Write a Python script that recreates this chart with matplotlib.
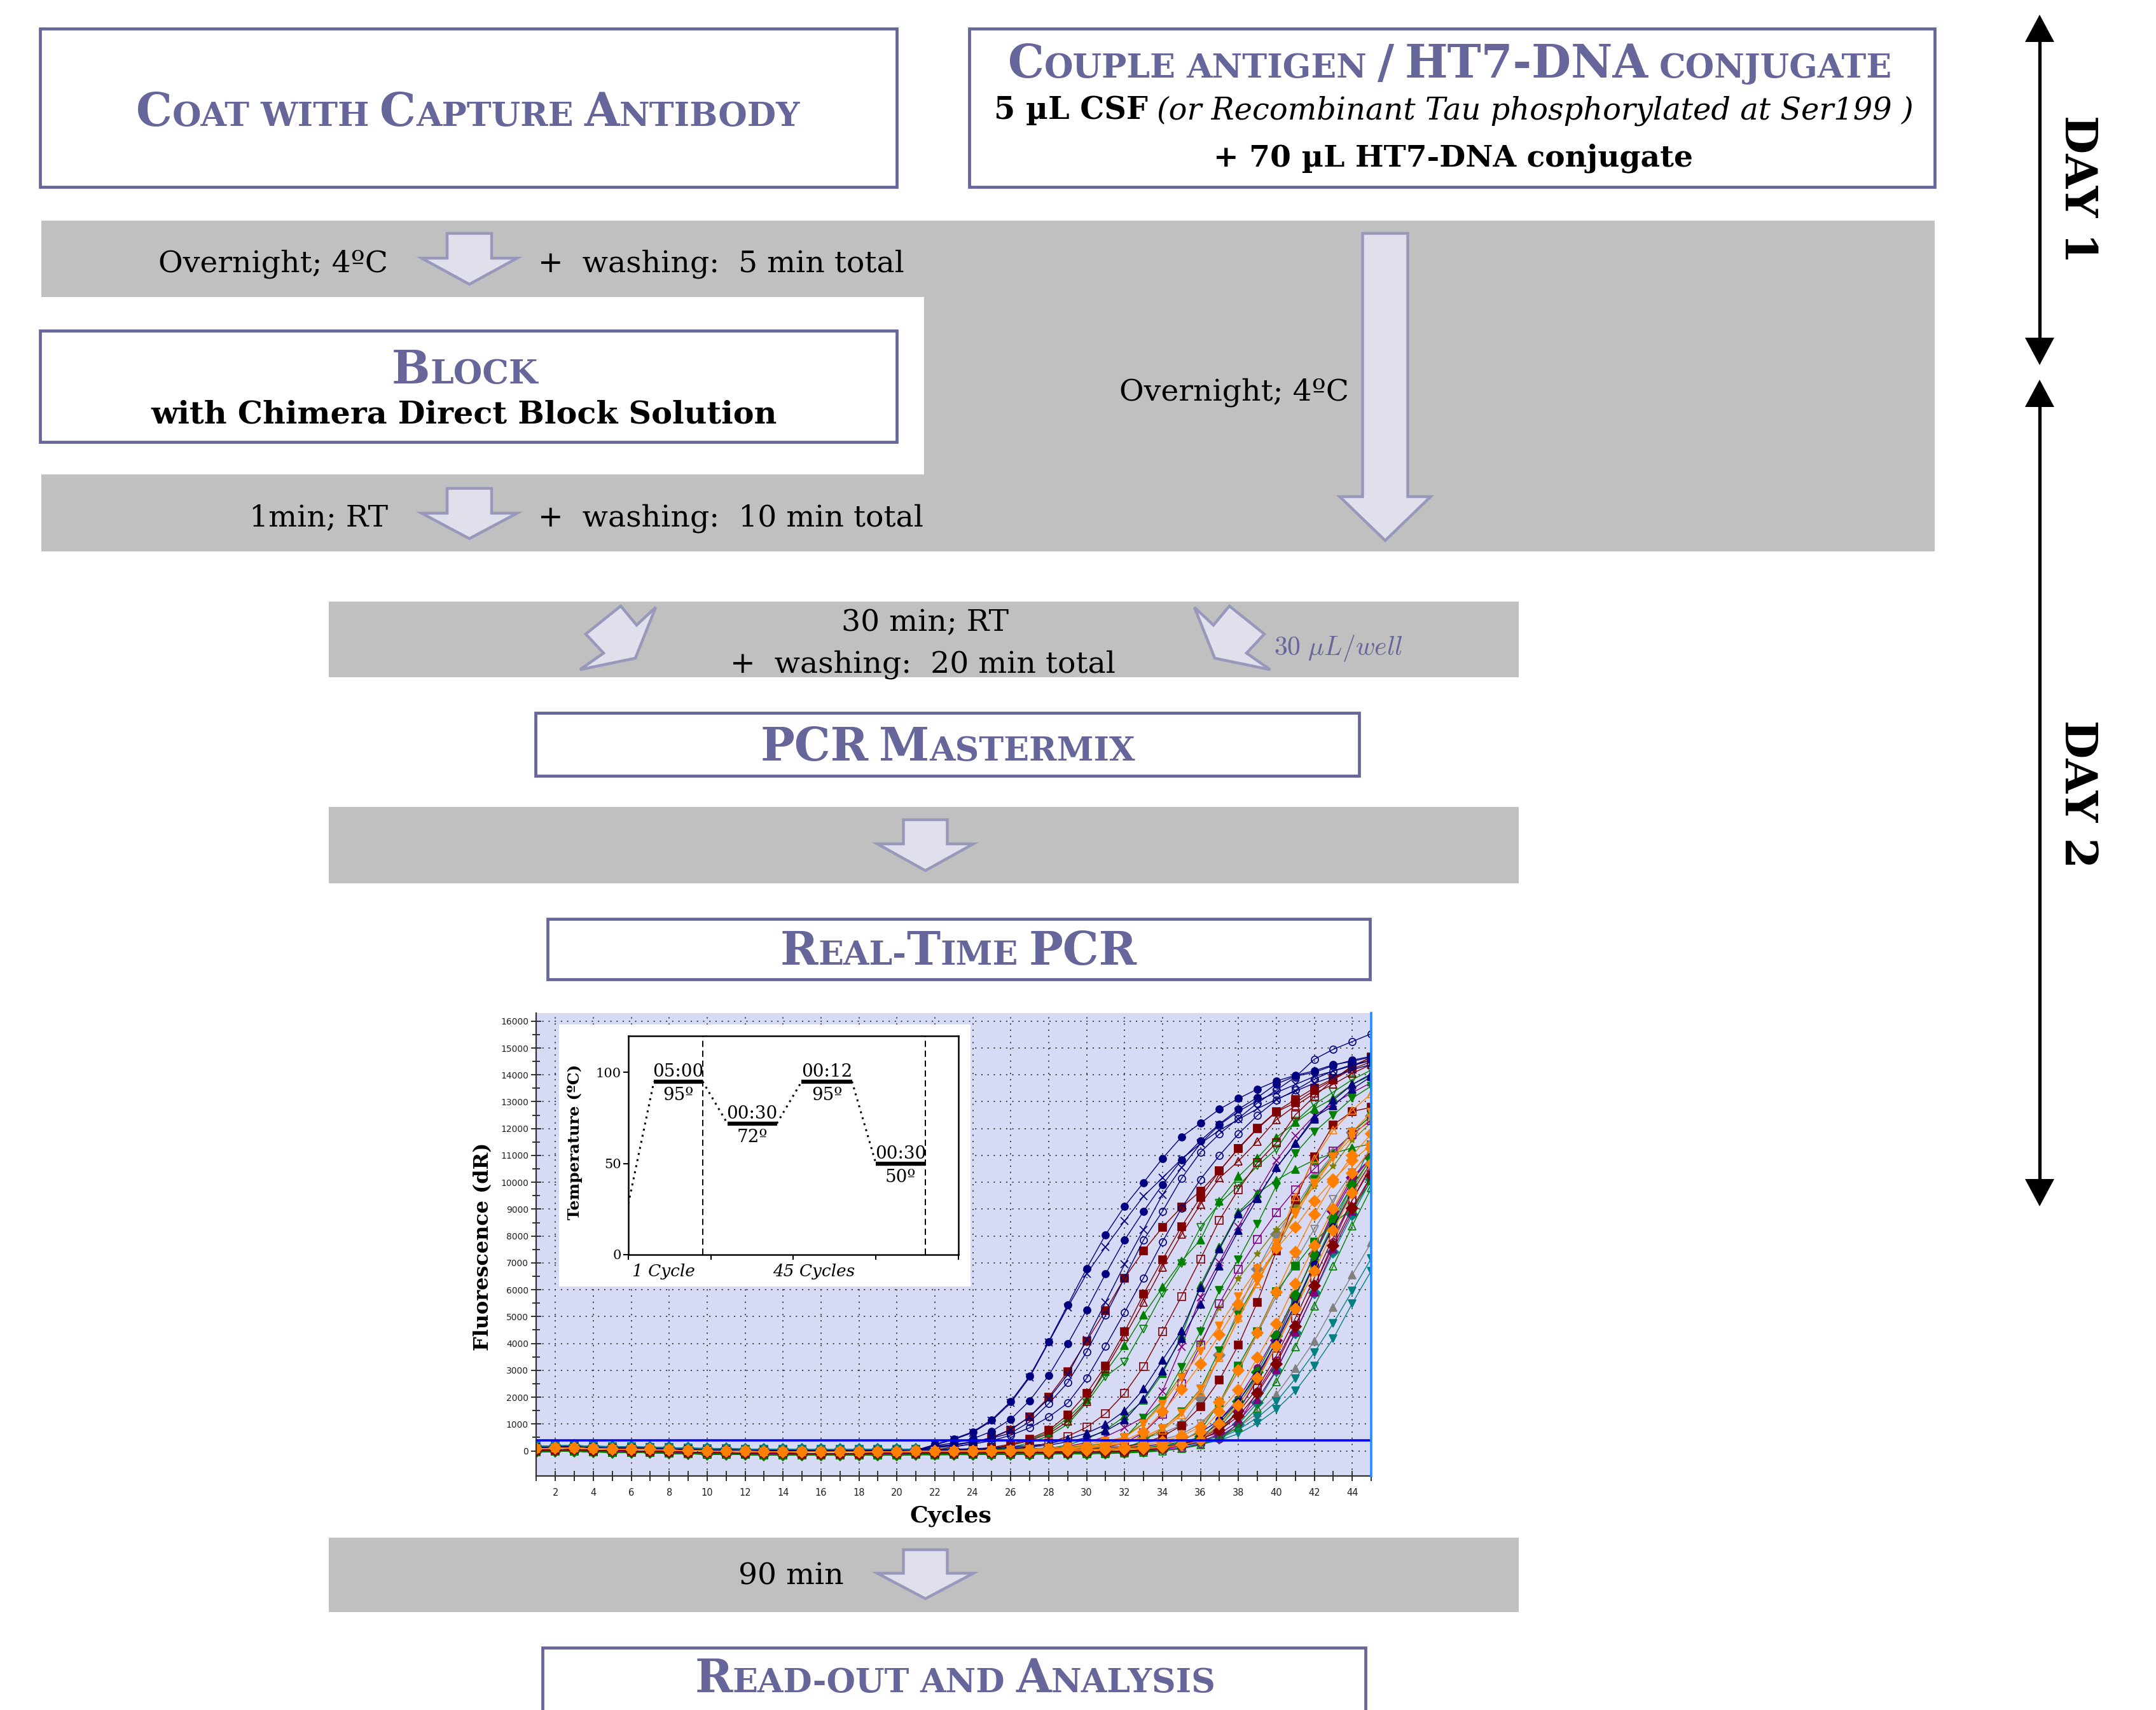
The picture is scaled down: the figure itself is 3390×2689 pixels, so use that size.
import numpy as np
import matplotlib
matplotlib.use("Agg")
import matplotlib.pyplot as plt
from matplotlib.patches import Rectangle, Polygon

W, H = 3391, 2689
DPI = 100
SLATE = "#66669a"
BAND = "#c0c0c0"
ARROW_FILL = "#e0e0ec"
ARROW_EDGE = "#9898bb"
SERIF = "DejaVu Serif"
plt.rcParams["mathtext.fontset"] = "cm"

# ---------------- amplification data (dR) ----------------
cycles = list(range(1, 46))
# common baseline for cycles 1-21
baseline_dR = [80, 100, 110, 80, 70, 60, 50, 30, 10, 0, -10, -20, -30, -30, -40,
               -40, -40, -40, -30, -30, -20]
# each curve below lists cycles 22-45
threshold_dR = 400

navy_dR = [
    [200, 410, 670, 1120, 1800, 2750, 4030, 5390, 6750, 8010, 9070, 9950, 10850, 11650, 12160, 12680, 13080, 13430, 13730, 13940, 14110, 14340, 14460, 14630],
    [180, 380, 640, 1080, 1750, 2700, 4000, 5300, 6550, 7560, 8520, 9440, 10130, 10820, 11400, 11900, 12300, 12700, 13050, 13350, 13650, 13900, 14150, 14350],
    [150, 260, 410, 690, 1140, 1830, 2770, 3940, 5210, 6550, 7810, 8880, 9870, 10790, 11510, 12130, 12680, 13120, 13620, 13910, 14050, 14310, 14510, 14650],
    [120, 200, 300, 430, 620, 1040, 1720, 2500, 3650, 5010, 6400, 7810, 8880, 10100, 11080, 11760, 12340, 12910, 13390, 13880, 14540, 14910, 15200, 15490],
    [80, 130, 210, 340, 540, 820, 1220, 1740, 2660, 3860, 5120, 6400, 7750, 8990, 10070, 10960, 11760, 12450, 13020, 13390, 13800, 14110, 14340, 14500],
    [100, 170, 280, 460, 760, 1230, 1900, 2800, 4100, 5500, 6900, 8200, 9500, 10500, 11400, 12100, 12600, 13000, 13300, 13600, 13900, 14100, 14300, 14500],
    [0, 20, 40, 70, 110, 160, 220, 400, 620, 940, 1450, 2260, 3340, 4430, 6040, 7470, 8790, 9380, 10500, 11420, 12390, 12800, 13430, 13900],
    [-10, 0, 20, 40, 70, 110, 170, 300, 450, 700, 1100, 1900, 2940, 4150, 5410, 6840, 8160, 9360, 10500, 11400, 12310, 13020, 13600, 14000],
    [-20, -20, -10, -10, 0, 0, 10, 20, 30, 50, 80, 130, 220, 380, 650, 1100, 1800, 2800, 4000, 5400, 6900, 8300, 9600, 10700],
]
navy_marks = [("o", True), ("x", True), ("o", True), ("o", False), ("o", False),
              ("x", True), ("^", True), ("^", True), ("o", True)]

maroon_dR = [
    [100, 200, 330, 540, 840, 1330, 2060, 3010, 4150, 5290, 6500, 7500, 8390, 9130, 9730, 10480, 11330, 12080, 12700, 13140, 13570, 13920, 14340, 14740],
    [30, 60, 110, 190, 310, 510, 820, 1400, 2200, 3230, 4490, 5900, 7180, 8410, 9500, 10480, 11310, 12050, 12680, 13020, 13480, 13880, 14400, 14700],
    [20, 50, 90, 160, 270, 440, 700, 1150, 1900, 3120, 4320, 5580, 6900, 8120, 9240, 10220, 10850, 11590, 12390, 12910, 13370, 13710, 14110, 14450],
    [0, 20, 40, 70, 120, 200, 350, 600, 940, 1450, 2200, 3200, 4490, 5810, 7200, 8650, 9790, 10790, 11530, 12570, 13250, 13880, 14280, 14550],
    [-20, -10, -10, 0, 0, 10, 20, 40, 70, 120, 200, 350, 600, 1000, 1700, 2700, 4000, 5600, 7500, 9400, 11000, 12200, 12700, 12850],
    [-30, -20, -20, -10, -10, 0, 0, 10, 20, 40, 60, 100, 170, 300, 520, 900, 1500, 2400, 3600, 5000, 6500, 8000, 9400, 10600],
    [-20, -20, -10, -10, 0, 0, 10, 10, 20, 30, 50, 90, 160, 280, 480, 820, 1350, 2200, 3300, 4700, 6200, 7700, 9100, 10300],
]
maroon_marks = [("s", True), ("s", True), ("^", False), ("s", False), ("s", True),
                ("s", False), ("D", True)]

green_dR = [
    [40, 70, 120, 200, 330, 530, 820, 1340, 2030, 3060, 4030, 5180, 6210, 7180, 7980, 9420, 10330, 11020, 11790, 12340, 12850, 13250, 13770, 14100],
    [30, 50, 90, 150, 250, 420, 680, 1110, 1910, 2890, 3420, 4660, 5980, 7090, 8440, 9340, 9990, 10730, 11360, 12390, 13020, 13480, 13940, 14300],
    [0, 10, 30, 50, 80, 130, 210, 340, 560, 900, 1400, 2000, 3000, 4400, 6300, 7700, 9000, 9700, 10200, 10600, 10950, 11200, 11400, 11550],
    [-10, 0, 10, 20, 30, 50, 80, 130, 200, 350, 600, 1340, 1970, 3230, 4550, 6090, 7240, 8560, 9990, 11190, 11990, 12620, 13250, 13700],
    [-20, -10, -10, 0, 0, 10, 20, 40, 70, 120, 220, 500, 940, 1570, 2430, 3860, 5180, 6440, 7640, 9010, 10220, 11080, 11990, 12600],
    [-30, -20, -20, -10, -10, 0, 0, 10, 20, 40, 70, 130, 260, 480, 880, 1910, 3290, 4550, 6040, 7000, 7900, 8600, 9130, 10160],
    [-20, -20, -10, -10, 0, 0, 10, 10, 20, 40, 60, 110, 200, 360, 650, 1150, 1950, 3050, 4400, 5900, 7400, 8800, 10000, 11000],
    [-20, -20, -20, -10, -10, 0, 0, 10, 10, 20, 40, 70, 120, 200, 340, 600, 1000, 1700, 2700, 4000, 5500, 7000, 8500, 9900],
]
green_marks = [("^", True), ("v", False), ("^", True), ("v", True), ("v", True),
               ("s", True), ("D", True), ("^", False)]

purple_dR = [
    [-10, 0, 0, 10, 20, 30, 50, 80, 130, 220, 380, 770, 1450, 2600, 4030, 5580, 6840, 7960, 8960, 9820, 10600, 11250, 11880, 12400],
    [-20, -20, -10, -10, 0, 0, 10, 20, 30, 50, 80, 130, 220, 370, 560, 770, 1570, 2770, 4200, 5810, 7410, 9010, 10270, 11020],
    [-30, -20, -20, -10, -10, 0, 0, 10, 10, 20, 40, 70, 120, 200, 330, 540, 1110, 2310, 3460, 4780, 6210, 7870, 9420, 10730],
    [-20, -20, -10, -10, 0, 0, 10, 10, 20, 40, 70, 120, 200, 340, 540, 1230, 2030, 3170, 4430, 5860, 7350, 8900, 10160, 11020],
    [0, 10, 20, 40, 70, 110, 170, 260, 400, 620, 950, 1340, 2310, 3970, 5810, 7120, 8440, 9700, 10900, 11820, 12570, 13020, 13430, 13800],
    [-20, -20, -10, -10, 0, 0, 0, 10, 20, 30, 50, 90, 150, 260, 430, 720, 1200, 2000, 3100, 4500, 6000, 7600, 9000, 10300],
]
purple_marks = [("s", False), ("D", True), ("o", False), ("o", True), ("x", True), ("^", True)]

teal_dR = [
    [-40, -40, -30, -30, -20, -20, -10, -10, 0, 10, 20, 40, 70, 110, 150, 300, 550, 940, 1450, 2140, 3060, 4090, 5400, 6610],
    [-40, -30, -30, -20, -20, -10, -10, 0, 10, 20, 30, 50, 90, 140, 200, 380, 700, 1150, 1740, 2600, 3570, 4660, 5860, 7070],
    [-30, -20, -20, -10, -10, 0, 0, 10, 20, 30, 50, 80, 140, 240, 420, 800, 1600, 2700, 4000, 5400, 6900, 8400, 9800, 11300],
    [-30, -30, -20, -20, -10, -10, 0, 0, 10, 20, 30, 50, 90, 150, 260, 450, 900, 1700, 2900, 4300, 5800, 7300, 8700, 10000],
]
teal_marks = [("v", True), ("v", True), ("s", True), ("D", True)]

gray_dR = [
    [-30, -30, -20, -20, -10, -10, 0, 0, 10, 20, 40, 70, 120, 190, 300, 500, 820, 1340, 2030, 3000, 4030, 5290, 6490, 7700],
    [-10, 0, 0, 10, 20, 30, 50, 80, 130, 200, 300, 420, 600, 900, 1900, 3500, 5200, 6700, 8000, 9000, 10100, 11000, 11800, 12400],
    [-20, -10, -10, 0, 0, 10, 20, 30, 50, 80, 130, 220, 360, 560, 950, 1700, 2900, 4300, 5700, 7000, 8200, 9300, 10300, 11100],
]
gray_marks = [("^", True), ("D", True), ("v", False)]

olive_dR = [
    [-10, 0, 0, 10, 20, 40, 60, 100, 160, 260, 500, 1000, 1800, 2800, 4000, 5290, 6380, 7300, 8210, 9010, 9820, 10560, 11530, 12200],
    [-30, -20, -20, -10, -10, 0, 0, 10, 20, 30, 50, 80, 130, 230, 400, 700, 1500, 2600, 3900, 5300, 6900, 8400, 9700, 10900],
]
olive_marks = [("*", True), ("s", True)]

orange_dR = [
    [-10, 0, 10, 20, 40, 60, 100, 160, 250, 370, 500, 1000, 1740, 2700, 3700, 4660, 5750, 6780, 7750, 8900, 9990, 10960, 11880, 12600],
    [-10, 0, 0, 10, 20, 40, 60, 100, 160, 250, 400, 700, 1450, 2280, 3230, 4320, 5460, 6490, 7530, 8330, 9300, 10100, 10800, 11400],
    [-20, -10, -10, 0, 10, 20, 30, 60, 100, 170, 290, 480, 770, 1340, 2200, 3460, 4950, 6210, 7640, 9470, 10870, 11940, 12680, 13300],
    [-20, -20, -10, -10, 0, 0, 10, 20, 30, 50, 80, 140, 240, 410, 700, 1450, 2260, 3460, 4720, 6210, 7640, 9010, 10330, 11250],
    [-20, -20, -20, -10, -10, 0, 0, 10, 20, 30, 50, 80, 130, 220, 380, 1000, 1700, 2700, 3900, 5300, 6700, 8200, 9600, 10700],
    [-20, -10, -10, 0, 0, 10, 20, 30, 50, 80, 130, 220, 350, 550, 900, 1800, 3000, 4400, 5900, 7400, 8800, 10000, 11000, 11800],
    [-10, 0, 0, 10, 20, 30, 50, 80, 130, 200, 320, 520, 850, 1400, 2300, 3500, 4900, 6300, 7600, 8800, 9900, 10900, 11700, 12400],
]
orange_marks = [("v", True), ("D", True), ("^", False), ("D", True), ("D", True),
                ("D", True), ("v", True)]

# per-family background level relative to the common baseline
gray_offset, teal_offset, olive_offset, purple_offset = 60, 90, 30, -90
green_offset, maroon_offset, navy_offset, orange_offset = -120, -60, 40, 0

# drawing order: later families sit on top
families = [
    ("#808080", gray_dR, gray_marks, gray_offset),
    ("#008080", teal_dR, teal_marks, teal_offset),
    ("#808000", olive_dR, olive_marks, olive_offset),
    ("#800080", purple_dR, purple_marks, purple_offset),
    ("#008000", green_dR, green_marks, green_offset),
    ("#800000", maroon_dR, maroon_marks, maroon_offset),
    ("#000080", navy_dR, navy_marks, navy_offset),
    ("#ff8000", orange_dR, orange_marks, orange_offset),
]

# thermal profile of the run (inset)
profile_time = [0.0, 0.31, 0.90, 1.20, 1.80, 2.10, 2.71, 3.00, 3.60]
profile_temp = [28, 95, 95, 72, 72, 95, 95, 50, 50]
hold_labels = ["05:00", "00:30", "00:12", "00:30"]
stage_bounds = [0.9, 3.6]
stage_labels = ["1 Cycle", "45 Cycles"]
stage_label_x = [0.43, 2.25]

# ---------------- canvas ----------------
fig = plt.figure(figsize=(W / DPI, H / DPI), dpi=DPI)
bg = fig.add_axes([0, 0, 1, 1], zorder=0)
bg.set_xlim(0, W)
bg.set_ylim(H, 0)
bg.axis("off")
renderer = fig.canvas.get_renderer()


def pt2px(pt):
    return pt * DPI / 72.0


def place_runs(runs, x0, y, anchor="left"):
    """Lay text pieces side by side on one baseline; numbers are gaps in px."""
    arts = []
    x = x0
    for item in runs:
        if isinstance(item, (int, float)):
            x += item
            continue
        s, kw = item
        t = bg.text(x, y, s, ha="left", va="baseline", **kw)
        x += t.get_window_extent(renderer).width
        arts.append(t)
    width = x - x0
    shift = {"left": 0.0, "center": -width / 2.0, "right": -width}[anchor]
    for t in arts:
        t.set_x(t.get_position()[0] + shift)
    return width


def small_caps(text, cx, y, big=51.5, small=37.6, color=SLATE):
    runs = []
    for i, word in enumerate(text.split(" ")):
        if i:
            runs.append(0.32 * pt2px(small))
        pieces = []
        for ch in word:
            low = ch.islower() if ch.isalpha() else (pieces[-1][1] if pieces else False)
            if pieces and pieces[-1][1] == low:
                pieces[-1][0] += ch
            else:
                pieces.append([ch, low])
        for s, low in pieces:
            runs.append((s.upper(), dict(fontsize=small if low else big, family=SERIF,
                                         weight="bold", color=color)))
    place_runs(runs, cx, y, anchor="center")


def band(x0, y0, x1, y1):
    bg.add_patch(Rectangle((x0, y0), x1 - x0, y1 - y0, fc=BAND, ec="none", zorder=1))


def step_box(x0, y0, x1, y1):
    bg.add_patch(Rectangle((x0, y0), x1 - x0, y1 - y0, fc="white", ec=SLATE, lw=3.4, zorder=2))


def down_arrow(cx, top, base, tip, shaft, head):
    pts = [(cx - shaft, top), (cx + shaft, top), (cx + shaft, base), (cx + head, base),
           (cx, tip), (cx - head, base), (cx - shaft, base)]
    bg.add_patch(Polygon(pts, closed=True, fc=ARROW_FILL, ec=ARROW_EDGE, lw=3.2,
                         joinstyle="miter", zorder=3))


def body(s, x, y, anchor="left", **kw):
    style = dict(fontsize=34, family=SERIF, color="black")
    style.update(kw)
    place_runs([(s, style)], x, y, anchor=anchor)


# grey incubation bands
band(65, 347, 3042, 467)
band(1453, 347, 3042, 867)
band(65, 746, 3042, 867)
band(517, 946, 2388, 1065)
band(517, 1269, 2388, 1389)
band(517, 2418, 2388, 2535)

# step boxes
step_box(63, 45, 1410, 294)
step_box(1524, 45, 3042, 294)
step_box(63, 520, 1410, 695)
step_box(842, 1121, 2137, 1220)
step_box(861, 1445, 2154, 1540)
step_box(853, 2591, 2147, 2760)

small_caps("Coat with Capture Antibody", 736, 198)
small_caps("Couple antigen / HT7-DNA conjugate", 2280, 122)
place_runs([("5 µL CSF", dict(fontsize=34.5, family=SERIF, weight="bold")), 14,
            ("(or Recombinant Tau phosphorylated at Ser199 )",
             dict(fontsize=34.5, family=SERIF, style="italic"))], 2286, 187, anchor="center")
place_runs([("+ 70 µL HT7-DNA conjugate", dict(fontsize=34, family=SERIF, weight="bold"))],
           2285, 261, anchor="center")
small_caps("Block", 731, 603)
place_runs([("with Chimera Direct Block Solution", dict(fontsize=35.5, family=SERIF, weight="bold"))],
           730, 666, anchor="center")
small_caps("PCR Mastermix", 1490, 1196)
small_caps("Real-Time PCR", 1507, 1517)
small_caps("Read-out and Analysis", 1502, 2661)

# arrows and incubation notes
down_arrow(738, 367, 406, 447, 35, 75)
down_arrow(738, 768, 807, 847, 35, 75)
down_arrow(2178, 367, 781, 850, 35.5, 71.5)
down_arrow(1455, 1289, 1327, 1369, 34.5, 75.5)
down_arrow(1455, 2437, 2474, 2514, 34.5, 75.5)

body("Overnight; 4ºC", 610, 428, anchor="right")
body("+  washing:  5 min total", 846, 428)
body("1min; RT", 610, 827, anchor="right")
body("+  washing:  10 min total", 846, 827)
body("Overnight; 4ºC", 2121, 629, anchor="right")
body("30 min; RT", 1455, 992, anchor="center")
body("+  washing:  20 min total", 1451, 1057, anchor="center")
body("90 min", 1327, 2491, anchor="right")
bg.text(2003, 1030, r"$30\ \mu L/well$", fontsize=30, color=SLATE, ha="left", va="baseline")

# dispensing arrows in the antigen band
right_chevron = [(1878, 955), (1910, 1035), (1997, 1053), (1960, 1027),
                 (1988, 997), (1933, 953), (1908, 983)]
left_chevron = [(2909 - x, y) for x, y in right_chevron]
for pts in (left_chevron, right_chevron):
    bg.add_patch(Polygon(pts, closed=True, fc=ARROW_FILL, ec=ARROW_EDGE, lw=3.2,
                         joinstyle="miter", zorder=3))


# day brackets
def day_arrow(x, y0, y1, label, ly):
    hl, hw = 43, 23
    bg.plot([x, x], [y0 + hl - 2, y1 - hl + 2], color="black", lw=3.8, solid_capstyle="butt")
    bg.add_patch(Polygon([(x, y0), (x - hw, y0 + hl), (x + hw, y0 + hl)], fc="black", ec="none"))
    bg.add_patch(Polygon([(x, y1), (x - hw, y1 - hl), (x + hw, y1 - hl)], fc="black", ec="none"))
    bg.text(x + 60, ly, label, rotation=-90, ha="center", va="center", fontsize=50,
            family=SERIF, weight="bold")


day_arrow(3207, 23, 574, "DAY 1", 297)
day_arrow(3207, 597, 1897, "DAY 2", 1248)

# ---------------- amplification plot ----------------
ax = fig.add_axes([843.5 / W, 1 - 2320.5 / H, (2156 - 843.5) / W, (2320.5 - 1592.6) / H], zorder=1)
ax.set_facecolor("#d7daf5")
ax.set_xlim(1, 45)
ax.set_ylim(-923, 16312)
for s in ("top", "right"):
    ax.spines[s].set_visible(False)
for s in ("left", "bottom"):
    ax.spines[s].set_color("#303030")
    ax.spines[s].set_linewidth(1.6)
ax.set_xticks(range(2, 45, 2))
ax.set_xticks(range(1, 46, 2), minor=True)
ax.set_yticks(range(0, 16001, 1000))
ax.set_yticks(range(500, 16000, 1000), minor=True)
ax.tick_params(axis="x", which="both", direction="inout", length=12, width=1.4, color="#303030",
               labelcolor="#202020", labelsize=10.5, pad=8)
ax.tick_params(axis="y", which="major", direction="inout", length=12, width=1.4, color="#303030",
               labelcolor="#202020", labelsize=10, pad=3)
ax.tick_params(axis="y", which="minor", direction="inout", length=8, width=1.4, color="#303030")
for lab in ax.get_xticklabels() + ax.get_yticklabels():
    lab.set_family("DejaVu Sans")
ax.grid(True, which="major", color="#3a3a3a", linestyle=(0, (1, 4)), linewidth=1.4)
ax.set_axisbelow(True)

for color, curves, marks, offset in families:
    for vals, (m, filled) in zip(curves, marks):
        trace = [v + offset for v in baseline_dR + vals]
        ax.plot(cycles, trace, color=color, lw=1.0, marker=m,
                ms=9 if m == "D" else 8,
                mfc=color if filled else "none", mec=color, mew=1.2, zorder=2)
ax.axhline(threshold_dR, color="#0000ff", lw=2.6, zorder=2.5)
ax.axvline(45, color="#1e8fff", lw=2.6, clip_on=False, zorder=3)

fig.text(760 / W, 1 - 1960 / H, "Fluorescence (dR)", rotation=90, ha="center", va="center",
         fontsize=23, family=SERIF, weight="bold", zorder=6)
fig.text(1495 / W, 1 - 2384 / H, "Cycles", ha="center", va="center",
         fontsize=26, family=SERIF, weight="bold", zorder=6)

# ---------------- thermal profile inset ----------------
ib = fig.add_axes([879 / W, 1 - 2023 / H, (1526 - 879) / W, (2023 - 1611) / H], zorder=2)
ib.set_facecolor("white")
ib.set_xticks([])
ib.set_yticks([])
for sp in ib.spines.values():
    sp.set_visible(False)

ins = fig.add_axes([988 / W, 1 - 1973 / H, (1507 - 988) / W, (1973 - 1629) / H], zorder=3)
ins.set_facecolor("white")
ins.set_xlim(0, 4)
ins.set_ylim(0, 120)
for sp in ins.spines.values():
    sp.set_linewidth(1.8)
ins.set_xticks([0, 1, 2, 3, 4])
ins.set_xticklabels([])
ins.set_yticks([0, 50, 100])
ins.tick_params(direction="out", length=6, width=1.5, labelsize=15, pad=2)
for lab in ins.get_yticklabels():
    lab.set_family(SERIF)

for i in range(0, len(profile_time) - 1):
    seg_t = profile_time[i:i + 2]
    seg_T = profile_temp[i:i + 2]
    if i % 2 == 0:
        ins.plot(seg_t, seg_T, color="black", lw=2.2, ls=(0, (1, 2.2)))
    else:
        ins.plot(seg_t, seg_T, color="black", lw=4.6, solid_capstyle="butt")
        mid = (seg_t[0] + seg_t[1]) / 2
        ins.text(mid, seg_T[0] + 2.6, hold_labels[i // 2], ha="center", va="baseline",
                 fontsize=20, family=SERIF)
        ins.text(mid, seg_T[0] - 3.0, f"{seg_T[0]}º", ha="center", va="top",
                 fontsize=20, family=SERIF)
for xb in stage_bounds:
    ins.axvline(xb, color="black", lw=1.4, ls=(0, (5, 3)))
for xl, lab in zip(stage_label_x, stage_labels):
    ins.annotate(lab, xy=(xl, 0), xycoords=("data", "axes fraction"), xytext=(0, -10),
                 textcoords="offset points", ha="center", va="top", fontsize=19,
                 family=SERIF, style="italic")
fig.text(904 / W, 1 - 1796 / H, "Temperature (ºC)", rotation=90, ha="center", va="center",
         fontsize=18, family=SERIF, weight="bold", zorder=6)

fig.savefig("out.png", dpi=DPI)
